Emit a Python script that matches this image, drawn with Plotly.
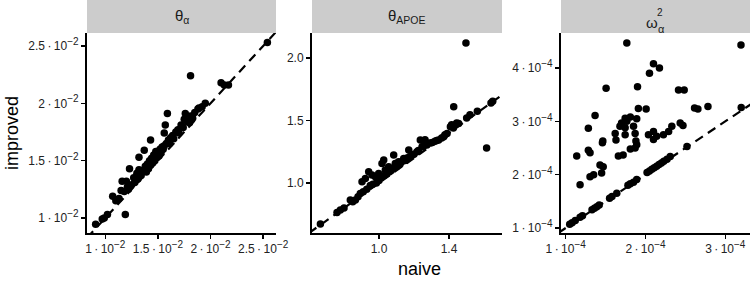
import plotly.graph_objects as go

# ---------------- data ----------------
# Panel 1: theta_alpha
naive_theta_a = [0.00908, 0.00971, 0.00990, 0.01020, 0.01190, 0.01070, 0.01100, 0.01130, 0.01150, 0.01160,
                 0.01180, 0.01210, 0.01200, 0.01230, 0.01220, 0.01250, 0.01270, 0.01280, 0.01300, 0.01310,
                 0.01320, 0.01320, 0.01340, 0.01350, 0.01370, 0.01370, 0.01380, 0.01390, 0.01400, 0.01410,
                 0.01420, 0.01430, 0.01430, 0.01440, 0.01450, 0.01460, 0.01470, 0.01480, 0.01490, 0.01500,
                 0.01510, 0.01520, 0.01530, 0.01540, 0.01550, 0.01560, 0.01560, 0.01570, 0.01580, 0.01590,
                 0.01600, 0.01610, 0.01620, 0.01640, 0.01650, 0.01670, 0.01690, 0.01700, 0.01720, 0.01740,
                 0.01750, 0.01760, 0.01780, 0.01800, 0.01810, 0.01830, 0.01850, 0.01880, 0.01890, 0.01920,
                 0.01950, 0.01810, 0.02100, 0.02130, 0.02170, 0.02540]
improved_theta_a = [0.00945, 0.00990, 0.01000, 0.01030, 0.01030, 0.01190, 0.01150, 0.01170, 0.01240, 0.01320,
                    0.01230, 0.01270, 0.01320, 0.01430, 0.01250, 0.01290, 0.01350, 0.01310, 0.01390, 0.01340,
                    0.01420, 0.01530, 0.01370, 0.01400, 0.01590, 0.01420, 0.01450, 0.01400, 0.01470, 0.01430,
                    0.01500, 0.01680, 0.01460, 0.01520, 0.01480, 0.01550, 0.01500, 0.01580, 0.01530, 0.01560,
                    0.01540, 0.01600, 0.01570, 0.01620, 0.01600, 0.01740, 0.01630, 0.01810, 0.01650, 0.01910,
                    0.01680, 0.01650, 0.01700, 0.01720, 0.01690, 0.01750, 0.01770, 0.01740, 0.01810, 0.01790,
                    0.01860, 0.01910, 0.01840, 0.01830, 0.01890, 0.01870, 0.01920, 0.01950, 0.01960, 0.01970,
                    0.02000, 0.02240, 0.02180, 0.02160, 0.02160, 0.02530]

# Panel 2: theta_APOE
naive_theta_apoe = [0.665, 0.760, 0.779, 0.800, 0.836, 0.850, 0.865, 0.880, 0.893, 0.903,
                    0.910, 0.922, 0.930, 0.941, 0.950, 0.960, 0.965, 0.979, 0.985, 0.998,
                    1.000, 1.010, 1.017, 1.027, 1.030, 1.036, 1.045, 1.055, 1.060, 1.070,
                    1.084, 1.085, 1.093, 1.100, 1.112, 1.120, 1.130, 1.141, 1.150, 1.160,
                    1.170, 1.175, 1.189, 1.200, 1.217, 1.225, 1.236, 1.246, 1.253, 1.263,
                    1.274, 1.290, 1.305, 1.320, 1.330, 1.341, 1.358, 1.370, 1.377, 1.389,
                    1.408, 1.415, 1.425, 1.427, 1.436, 1.444, 1.455, 1.497, 1.501, 1.520,
                    1.562, 1.615, 1.640, 1.650]
improved_theta_apoe = [0.672, 0.765, 0.784, 0.800, 0.864, 0.850, 0.864, 0.890, 0.917, 1.010,
                       0.930, 1.037, 0.950, 1.091, 0.980, 1.064, 0.990, 1.051, 1.000, 1.077,
                       1.020, 1.040, 1.157, 1.184, 1.060, 1.104, 1.075, 1.131, 1.090, 1.100,
                       1.224, 1.120, 1.157, 1.130, 1.171, 1.150, 1.170, 1.197, 1.180, 1.200,
                       1.264, 1.210, 1.224, 1.230, 1.251, 1.260, 1.344, 1.291, 1.293, 1.346,
                       1.304, 1.320, 1.325, 1.334, 1.340, 1.344, 1.360, 1.370, 1.386, 1.397,
                       1.450, 1.466, 1.440, 1.610, 1.464, 1.480, 1.477, 2.120, 1.520, 1.546,
                       1.574, 1.280, 1.640, 1.654]

# Panel 3: omega^2_alpha (values in units of 1e-4, scaled below)
naive_omega_e4 = [1.766, 3.197, 2.100, 2.175, 2.050, 1.506, 1.900, 2.414, 2.485, 1.368,
                  1.911, 2.008, 2.615, 2.657, 2.783, 3.200, 1.284, 1.745, 1.810, 1.700,
                  1.766, 1.890, 1.680, 1.745, 1.850, 1.620, 1.745, 1.870, 1.465, 1.630,
                  1.880, 2.037, 2.100, 2.140, 2.100, 2.225, 2.290, 2.330, 2.435, 2.470,
                  1.138, 1.284, 1.305, 1.460, 1.660, 1.720, 1.810, 1.870, 1.890, 1.430,
                  1.470, 1.450, 1.350, 1.305, 1.180,
                  1.050, 1.080, 1.120, 1.180, 1.210, 1.330, 1.360, 1.390, 1.420, 1.550,
                  1.580, 1.640, 1.780, 1.810, 1.850, 1.890, 2.020, 2.050, 2.080, 2.110,
                  2.140, 2.170, 2.200, 2.230, 2.270, 2.310, 2.520]
improved_omega_e4 = [4.47, 4.43, 4.08, 4.00, 3.90, 3.62, 3.65, 3.59, 3.59, 3.11,
                     3.24, 3.23, 3.25, 3.23, 3.28, 3.26, 2.87, 3.06, 3.08, 2.97,
                     3.00, 3.05, 2.91, 2.88, 2.91, 2.77, 2.75, 2.77, 2.63, 2.65,
                     2.63, 2.75, 2.81, 2.72, 2.66, 2.75, 2.81, 2.91, 2.97, 2.92,
                     2.35, 2.46, 2.41, 2.60, 2.35, 2.37, 2.48, 2.50, 2.56, 2.18,
                     2.15, 2.03, 2.00, 1.96, 1.81,
                     1.07, 1.10, 1.14, 1.20, 1.23, 1.34, 1.37, 1.40, 1.43, 1.56,
                     1.59, 1.65, 1.80, 1.83, 1.86, 1.91, 2.04, 2.07, 2.10, 2.13,
                     2.16, 2.19, 2.22, 2.25, 2.29, 2.34, 2.53]
naive_omega = [v * 1e-4 for v in naive_omega_e4]
improved_omega = [v * 1e-4 for v in improved_omega_e4]

strip_labels = ["θ<sub>α</sub>", "θ<sub>APOE</sub>", None]

# tick values / mantissas / exponents
SUP = "<sup><span style='font-size:10px'>{}</span></sup>"
def sci(m, e):
    return m + "\u2009·\u200910" + SUP.format("−" + str(e))

p1_ticks = [0.010, 0.015, 0.020, 0.025]
p1_ticktext = [sci("1", 2), sci("1.5", 2), sci("2", 2), sci("2.5", 2)]
p2_xticks = [1.0, 1.4]
p2_xticktext = ["1.0", "1.4"]
p2_yticks = [1.0, 1.5, 2.0]
p2_yticktext = ["1.0", "1.5", "2.0"]
p3_xticks = [1e-4, 2e-4, 3e-4]
p3_xticktext = [sci("1", 4), sci("2", 4), sci("3", 4)]
p3_yticks = [1e-4, 2e-4, 3e-4, 4e-4]
p3_yticktext = [sci("1", 4), sci("2", 4), sci("3", 4), sci("4", 4)]

# ---------------- layout geometry ----------------
W, H = 751, 283
def fx(p): return p / W
def fy(p): return 1 - p / H

panel_x = [(87, 276), (312, 502), (561, 750)]
panel_top, panel_bot = 33, 233

ranges = [
    ([0.00826, 0.02622], [0.00869, 0.02613]),
    ([0.617, 1.703], [0.600, 2.200]),
    ([0.941e-4, 3.31e-4], [0.906e-4, 4.657e-4]),
]

fig = go.Figure()
datasets = [(naive_theta_a, improved_theta_a), (naive_theta_apoe, improved_theta_apoe), (naive_omega, improved_omega)]

for i, (xs, ys) in enumerate(datasets):
    suf = "" if i == 0 else str(i + 1)
    fig.add_trace(go.Scatter(x=xs, y=ys, mode="markers", xaxis="x" + suf, yaxis="y" + suf,
                             marker=dict(size=7.5, color="black", line=dict(width=0)),
                             showlegend=False, hoverinfo="skip"))
    xr, yr = ranges[i]
    lo, hi = min(xr[0], yr[0]), max(xr[1], yr[1])
    fig.add_trace(go.Scatter(x=[lo, hi], y=[lo, hi], mode="lines", xaxis="x" + suf, yaxis="y" + suf,
                             line=dict(color="black", width=2.2, dash="9px,6px"),
                             showlegend=False, hoverinfo="skip"))

tickfont = dict(family="Liberation Sans, Arial, sans-serif", size=12, color="#222222")
axis_common = dict(showline=True, linecolor="black", linewidth=2, ticks="outside", ticklen=4,
                   tickwidth=1.5, tickcolor="black", showgrid=False, zeroline=False,
                   tickfont=tickfont, fixedrange=True, mirror=False, automargin=False)

xt = [(p1_ticks, p1_ticktext), (p2_xticks, p2_xticktext), (p3_xticks, p3_xticktext)]
yt = [(p1_ticks, p1_ticktext), (p2_yticks, p2_yticktext), (p3_yticks, p3_yticktext)]

layout = dict(width=W, height=H, margin=dict(l=0, r=0, t=0, b=0, pad=0, autoexpand=False),
              paper_bgcolor="white", plot_bgcolor="white", hovermode=False,
              font=dict(family="Liberation Sans, Arial, sans-serif", color="black"))
shapes = []
for i in range(3):
    suf = "" if i == 0 else str(i + 1)
    x0, x1 = panel_x[i]
    layout["xaxis" + suf] = dict(axis_common, domain=[fx(x0), fx(x1)], range=ranges[i][0],
                                 tickvals=xt[i][0], ticktext=xt[i][1], anchor="y" + suf)
    layout["yaxis" + suf] = dict(axis_common, domain=[fy(panel_bot), fy(panel_top)], range=ranges[i][1],
                                 tickvals=yt[i][0], ticktext=yt[i][1], anchor="x" + suf)
    shapes.append(dict(type="rect", xref="paper", yref="paper", x0=fx(x0), x1=fx(x1),
                       y0=fy(panel_top), y1=1.0, fillcolor="#cccccc", line=dict(width=0), layer="below"))

annotations = []
strip_font = dict(family="Liberation Sans, Arial, sans-serif", size=15, color="#1a1a1a")
for i in range(2):
    x0, x1 = panel_x[i]
    annotations.append(dict(text=strip_labels[i], xref="paper", yref="paper", x=fx((x0 + x1) / 2),
                            y=fy(17), showarrow=False, font=strip_font, xanchor="center", yanchor="middle"))
# omega^2_alpha: stacked super/subscript
annotations.append(dict(text="ω", xref="paper", yref="paper", x=fx(651.5), y=fy(22), showarrow=False,
                        font=strip_font, xanchor="center", yanchor="middle"))
annotations.append(dict(text="2", xref="paper", yref="paper", x=fx(659.5), y=fy(13), showarrow=False,
                        font=dict(strip_font, size=10), xanchor="center", yanchor="middle"))
annotations.append(dict(text="α", xref="paper", yref="paper", x=fx(661.5), y=fy(28.5), showarrow=False,
                        font=dict(strip_font, size=11), xanchor="center", yanchor="middle"))
# axis titles
title_font = dict(family="Liberation Sans, Arial, sans-serif", size=18, color="black")
annotations.append(dict(text="improved", xref="paper", yref="paper", x=fx(12), y=fy(133), textangle=-90,
                        showarrow=False, font=title_font, xanchor="center", yanchor="middle"))
annotations.append(dict(text="naive", xref="paper", yref="paper", x=fx(419), y=fy(269), showarrow=False,
                        font=title_font, xanchor="center", yanchor="middle"))

layout["shapes"] = shapes
layout["annotations"] = annotations
fig.update_layout(**layout)

fig.write_html("out.html", config={"displayModeBar": False, "staticPlot": True},
               post_script="document.body.style.margin='0';document.body.style.overflow='hidden';")
